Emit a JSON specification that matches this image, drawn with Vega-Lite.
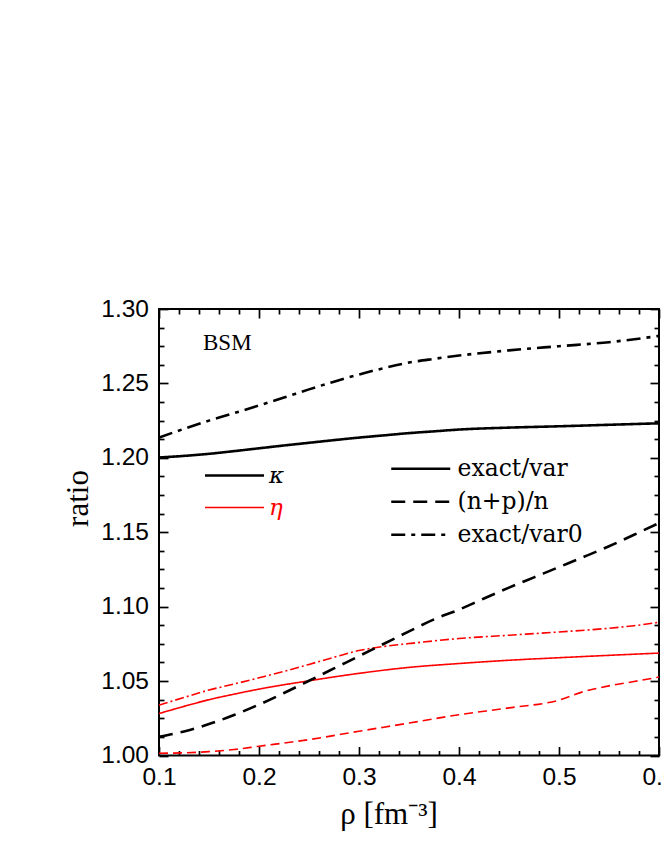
{
  "$schema": "https://vega.github.io/schema/vega-lite/v6.json",
  "width": 500,
  "height": 446.5,
  "autosize": {"type": "none"},
  "padding": {"left": 159, "top": 309, "right": 5, "bottom": 104.5},
  "background": "white",
  "config": {
    "view": {"stroke": "black", "strokeWidth": 2},
    "axis": {"grid": false, "domain": false}
  },
  "datasets": {
    "curves": [
      {"param": "κ", "curve": "exact/var", "rho": 0.10, "ratio": 1.2002},
      {"param": "κ", "curve": "exact/var", "rho": 0.125, "ratio": 1.2013},
      {"param": "κ", "curve": "exact/var", "rho": 0.15, "ratio": 1.2027},
      {"param": "κ", "curve": "exact/var", "rho": 0.175, "ratio": 1.2045},
      {"param": "κ", "curve": "exact/var", "rho": 0.20, "ratio": 1.2064},
      {"param": "κ", "curve": "exact/var", "rho": 0.225, "ratio": 1.2083},
      {"param": "κ", "curve": "exact/var", "rho": 0.25, "ratio": 1.2101},
      {"param": "κ", "curve": "exact/var", "rho": 0.275, "ratio": 1.2119},
      {"param": "κ", "curve": "exact/var", "rho": 0.30, "ratio": 1.2136},
      {"param": "κ", "curve": "exact/var", "rho": 0.325, "ratio": 1.2151},
      {"param": "κ", "curve": "exact/var", "rho": 0.35, "ratio": 1.2166},
      {"param": "κ", "curve": "exact/var", "rho": 0.375, "ratio": 1.2178},
      {"param": "κ", "curve": "exact/var", "rho": 0.40, "ratio": 1.2190},
      {"param": "κ", "curve": "exact/var", "rho": 0.45, "ratio": 1.2203},
      {"param": "κ", "curve": "exact/var", "rho": 0.50, "ratio": 1.2212},
      {"param": "κ", "curve": "exact/var", "rho": 0.55, "ratio": 1.2222},
      {"param": "κ", "curve": "exact/var", "rho": 0.60, "ratio": 1.2232},

      {"param": "κ", "curve": "(n+p)/n", "rho": 0.10, "ratio": 1.0126},
      {"param": "κ", "curve": "(n+p)/n", "rho": 0.125, "ratio": 1.0162},
      {"param": "κ", "curve": "(n+p)/n", "rho": 0.15, "ratio": 1.0211},
      {"param": "κ", "curve": "(n+p)/n", "rho": 0.175, "ratio": 1.0272},
      {"param": "κ", "curve": "(n+p)/n", "rho": 0.20, "ratio": 1.0342},
      {"param": "κ", "curve": "(n+p)/n", "rho": 0.225, "ratio": 1.0420},
      {"param": "κ", "curve": "(n+p)/n", "rho": 0.25, "ratio": 1.0502},
      {"param": "κ", "curve": "(n+p)/n", "rho": 0.275, "ratio": 1.0585},
      {"param": "κ", "curve": "(n+p)/n", "rho": 0.30, "ratio": 1.0668},
      {"param": "κ", "curve": "(n+p)/n", "rho": 0.325, "ratio": 1.0751},
      {"param": "κ", "curve": "(n+p)/n", "rho": 0.35, "ratio": 1.0834},
      {"param": "κ", "curve": "(n+p)/n", "rho": 0.375, "ratio": 1.0915},
      {"param": "κ", "curve": "(n+p)/n", "rho": 0.40, "ratio": 1.0980},
      {"param": "κ", "curve": "(n+p)/n", "rho": 0.425, "ratio": 1.1055},
      {"param": "κ", "curve": "(n+p)/n", "rho": 0.45, "ratio": 1.1128},
      {"param": "κ", "curve": "(n+p)/n", "rho": 0.475, "ratio": 1.1197},
      {"param": "κ", "curve": "(n+p)/n", "rho": 0.50, "ratio": 1.1266},
      {"param": "κ", "curve": "(n+p)/n", "rho": 0.525, "ratio": 1.1335},
      {"param": "κ", "curve": "(n+p)/n", "rho": 0.55, "ratio": 1.1406},
      {"param": "κ", "curve": "(n+p)/n", "rho": 0.575, "ratio": 1.1483},
      {"param": "κ", "curve": "(n+p)/n", "rho": 0.60, "ratio": 1.1562},

      {"param": "κ", "curve": "exact/var0", "rho": 0.10, "ratio": 1.2136},
      {"param": "κ", "curve": "exact/var0", "rho": 0.125, "ratio": 1.2195},
      {"param": "κ", "curve": "exact/var0", "rho": 0.15, "ratio": 1.2250},
      {"param": "κ", "curve": "exact/var0", "rho": 0.175, "ratio": 1.2300},
      {"param": "κ", "curve": "exact/var0", "rho": 0.20, "ratio": 1.2352},
      {"param": "κ", "curve": "exact/var0", "rho": 0.225, "ratio": 1.2405},
      {"param": "κ", "curve": "exact/var0", "rho": 0.25, "ratio": 1.2460},
      {"param": "κ", "curve": "exact/var0", "rho": 0.275, "ratio": 1.2512},
      {"param": "κ", "curve": "exact/var0", "rho": 0.30, "ratio": 1.2560},
      {"param": "κ", "curve": "exact/var0", "rho": 0.325, "ratio": 1.2603},
      {"param": "κ", "curve": "exact/var0", "rho": 0.35, "ratio": 1.2640},
      {"param": "κ", "curve": "exact/var0", "rho": 0.375, "ratio": 1.2665},
      {"param": "κ", "curve": "exact/var0", "rho": 0.40, "ratio": 1.2687},
      {"param": "κ", "curve": "exact/var0", "rho": 0.45, "ratio": 1.2722},
      {"param": "κ", "curve": "exact/var0", "rho": 0.50, "ratio": 1.2750},
      {"param": "κ", "curve": "exact/var0", "rho": 0.55, "ratio": 1.2777},
      {"param": "κ", "curve": "exact/var0", "rho": 0.60, "ratio": 1.2819},

      {"param": "η", "curve": "exact/var", "rho": 0.10, "ratio": 1.0282},
      {"param": "η", "curve": "exact/var", "rho": 0.125, "ratio": 1.0330},
      {"param": "η", "curve": "exact/var", "rho": 0.15, "ratio": 1.0375},
      {"param": "η", "curve": "exact/var", "rho": 0.175, "ratio": 1.0412},
      {"param": "η", "curve": "exact/var", "rho": 0.20, "ratio": 1.0446},
      {"param": "η", "curve": "exact/var", "rho": 0.25, "ratio": 1.0502},
      {"param": "η", "curve": "exact/var", "rho": 0.30, "ratio": 1.0552},
      {"param": "η", "curve": "exact/var", "rho": 0.35, "ratio": 1.0592},
      {"param": "η", "curve": "exact/var", "rho": 0.40, "ratio": 1.0618},
      {"param": "η", "curve": "exact/var", "rho": 0.45, "ratio": 1.0640},
      {"param": "η", "curve": "exact/var", "rho": 0.50, "ratio": 1.0657},
      {"param": "η", "curve": "exact/var", "rho": 0.55, "ratio": 1.0673},
      {"param": "η", "curve": "exact/var", "rho": 0.60, "ratio": 1.0688},

      {"param": "η", "curve": "(n+p)/n", "rho": 0.10, "ratio": 1.0015},
      {"param": "η", "curve": "(n+p)/n", "rho": 0.125, "ratio": 1.0018},
      {"param": "η", "curve": "(n+p)/n", "rho": 0.15, "ratio": 1.0026},
      {"param": "η", "curve": "(n+p)/n", "rho": 0.175, "ratio": 1.0040},
      {"param": "η", "curve": "(n+p)/n", "rho": 0.20, "ratio": 1.0062},
      {"param": "η", "curve": "(n+p)/n", "rho": 0.25, "ratio": 1.0107},
      {"param": "η", "curve": "(n+p)/n", "rho": 0.30, "ratio": 1.0163},
      {"param": "η", "curve": "(n+p)/n", "rho": 0.35, "ratio": 1.0218},
      {"param": "η", "curve": "(n+p)/n", "rho": 0.40, "ratio": 1.0274},
      {"param": "η", "curve": "(n+p)/n", "rho": 0.45, "ratio": 1.0320},
      {"param": "η", "curve": "(n+p)/n", "rho": 0.50, "ratio": 1.0372},
      {"param": "η", "curve": "(n+p)/n", "rho": 0.525, "ratio": 1.0430},
      {"param": "η", "curve": "(n+p)/n", "rho": 0.55, "ratio": 1.0468},
      {"param": "η", "curve": "(n+p)/n", "rho": 0.575, "ratio": 1.0497},
      {"param": "η", "curve": "(n+p)/n", "rho": 0.60, "ratio": 1.0527},

      {"param": "η", "curve": "exact/var0", "rho": 0.10, "ratio": 1.0338},
      {"param": "η", "curve": "exact/var0", "rho": 0.125, "ratio": 1.0390},
      {"param": "η", "curve": "exact/var0", "rho": 0.15, "ratio": 1.0440},
      {"param": "η", "curve": "exact/var0", "rho": 0.175, "ratio": 1.0480},
      {"param": "η", "curve": "exact/var0", "rho": 0.20, "ratio": 1.0522},
      {"param": "η", "curve": "exact/var0", "rho": 0.225, "ratio": 1.0565},
      {"param": "η", "curve": "exact/var0", "rho": 0.25, "ratio": 1.0612},
      {"param": "η", "curve": "exact/var0", "rho": 0.275, "ratio": 1.0660},
      {"param": "η", "curve": "exact/var0", "rho": 0.30, "ratio": 1.0705},
      {"param": "η", "curve": "exact/var0", "rho": 0.325, "ratio": 1.0733},
      {"param": "η", "curve": "exact/var0", "rho": 0.35, "ratio": 1.0752},
      {"param": "η", "curve": "exact/var0", "rho": 0.40, "ratio": 1.0786},
      {"param": "η", "curve": "exact/var0", "rho": 0.45, "ratio": 1.0808},
      {"param": "η", "curve": "exact/var0", "rho": 0.50, "ratio": 1.0830},
      {"param": "η", "curve": "exact/var0", "rho": 0.55, "ratio": 1.0855},
      {"param": "η", "curve": "exact/var0", "rho": 0.575, "ratio": 1.0872},
      {"param": "η", "curve": "exact/var0", "rho": 0.60, "ratio": 1.0895}
    ]
  },
  "data": {"name": "curves"},
  "layer": [
    {
      "transform": [{"filter": "datum.param === 'η'"}],
      "mark": {"type": "line", "interpolate": "monotone"},
      "encoding": {
        "x": {"field": "rho", "type": "quantitative", "scale": {"domain": [0.1, 0.6], "nice": false, "zero": false}, "axis": null},
        "y": {"field": "ratio", "type": "quantitative", "scale": {"domain": [1.0, 1.3], "nice": false, "zero": false}, "axis": null},
        "detail": {"field": "curve"},
        "color": {"field": "param", "type": "nominal", "scale": {"domain": ["κ", "η"], "range": ["black", "#ff0000"]},
          "legend": {"orient": "none", "legendX": 64, "legendY": 155, "title": null, "padding": 0, "symbolType": "M-3,0H3", "symbolSize": 387, "labelFont": "DejaVu Serif", "labelFontStyle": "italic", "labelFontSize": 23, "labelOffset": 23, "rowPadding": 8, "encode": {"labels": {"update": {"fill": {"signal": "datum.label === 'η' ? '#ff0000' : 'black'"}}}}}},
        "strokeWidth": {"field": "param", "type": "nominal", "scale": {"domain": ["κ", "η"], "range": [2.6, 1.6]},
          "legend": {"orient": "none", "legendX": 64, "legendY": 155, "title": null, "padding": 0, "symbolType": "M-3,0H3", "symbolSize": 387, "labelFont": "DejaVu Serif", "labelFontStyle": "italic", "labelFontSize": 23, "labelOffset": 23, "rowPadding": 8, "encode": {"labels": {"update": {"fill": {"signal": "datum.label === 'η' ? '#ff0000' : 'black'"}}}}}},
        "strokeDash": {"field": "curve", "type": "nominal", "scale": {"domain": ["exact/var", "(n+p)/n", "exact/var0"], "range": [[1, 0], [9, 5], [9, 3, 2, 3]]}, "legend": null}
      }
    },
    {
      "transform": [{"filter": "datum.param === 'κ'"}],
      "mark": {"type": "line", "interpolate": "monotone"},
      "encoding": {
        "x": {"field": "rho", "type": "quantitative", "scale": {"domain": [0.1, 0.6], "nice": false, "zero": false},
          "axis": {"orient": "bottom", "values": [0.1, 0.2, 0.3, 0.4, 0.5, 0.6], "format": ".1f", "ticks": false, "domain": false, "labelFont": "Liberation Sans", "labelFontSize": 24.5, "labelColor": "black", "labelPadding": 10, "labelFlush": false, "labelOverlap": false, "labelBound": false,
            "title": "ρ [fm⁻³]", "titleFont": "Liberation Serif", "titleFontSize": 31, "titleFontWeight": "normal", "titleColor": "black", "titleX": 229.5, "titleY": 67.5, "titleAlign": "center", "titleBaseline": "alphabetic"}},
        "y": {"field": "ratio", "type": "quantitative", "scale": {"domain": [1.0, 1.3], "nice": false, "zero": false},
          "axis": {"orient": "left", "values": [1.0, 1.05, 1.1, 1.15, 1.2, 1.25, 1.3], "format": ".2f", "ticks": false, "domain": false, "labelFont": "Liberation Sans", "labelFontSize": 24.5, "labelColor": "black", "labelPadding": 10.5, "labelFlush": false, "labelOverlap": false, "labelBound": false,
            "title": "ratio", "titleFont": "Liberation Serif", "titleFontSize": 31, "titleFontWeight": "normal", "titleColor": "black", "titleAngle": 270, "titleX": -72, "titleY": 189, "titleAlign": "center", "titleBaseline": "alphabetic"}},
        "detail": {"field": "curve"},
        "color": {"field": "param", "type": "nominal", "scale": {"domain": ["κ", "η"], "range": ["black", "#ff0000"]},
          "legend": {"orient": "none", "legendX": 64, "legendY": 155, "title": null, "padding": 0, "symbolType": "M-3,0H3", "symbolSize": 387, "labelFont": "DejaVu Serif", "labelFontStyle": "italic", "labelFontSize": 23, "labelOffset": 23, "rowPadding": 8, "encode": {"labels": {"update": {"fill": {"signal": "datum.label === 'η' ? '#ff0000' : 'black'"}}}}}},
        "strokeWidth": {"field": "param", "type": "nominal", "scale": {"domain": ["κ", "η"], "range": [2.6, 1.6]},
          "legend": {"orient": "none", "legendX": 64, "legendY": 155, "title": null, "padding": 0, "symbolType": "M-3,0H3", "symbolSize": 387, "labelFont": "DejaVu Serif", "labelFontStyle": "italic", "labelFontSize": 23, "labelOffset": 23, "rowPadding": 8, "encode": {"labels": {"update": {"fill": {"signal": "datum.label === 'η' ? '#ff0000' : 'black'"}}}}}},
        "strokeDash": {"field": "curve", "type": "nominal", "scale": {"domain": ["exact/var", "(n+p)/n", "exact/var0"], "range": [[1, 0], [14, 8], [14, 6, 4, 6]]},
          "legend": {"orient": "none", "legendX": 250, "legendY": 148, "title": null, "padding": 0, "symbolType": "M-3,0H3", "symbolSize": 387, "symbolStrokeColor": "black", "symbolStrokeWidth": 2.6, "labelFont": "DejaVu Serif", "labelFontSize": 23.5, "labelColor": "black", "labelOffset": 25, "rowPadding": 8}}
      }
    },
    {
      "mark": {"type": "line", "opacity": 0},
      "encoding": {
        "x": {"field": "rho", "type": "quantitative", "scale": {"domain": [0.1, 0.6], "nice": false, "zero": false},
          "axis": {"orient": "top", "offset": -446.5, "tickCount": 100, "values": [0.1, 0.12, 0.14, 0.16, 0.18, 0.2, 0.22, 0.24, 0.26, 0.28, 0.3, 0.32, 0.34, 0.36, 0.38, 0.4, 0.42, 0.44, 0.46, 0.48, 0.5, 0.52, 0.54, 0.56, 0.58, 0.6], "labels": false, "domain": false, "grid": false, "ticks": true,
            "tickSize": {"condition": {"test": "abs(datum.value * 10 - round(datum.value * 10)) < 0.001", "value": 9}, "value": 5},
            "tickWidth": 1.7, "tickColor": "black", "title": null}},
        "y": {"field": "ratio", "type": "quantitative", "scale": {"domain": [1.0, 1.3], "nice": false, "zero": false},
          "axis": {"orient": "right", "offset": -500, "tickCount": 100, "values": [1.0, 1.0125, 1.025, 1.0375, 1.05, 1.0625, 1.075, 1.0875, 1.1, 1.1125, 1.125, 1.1375, 1.15, 1.1625, 1.175, 1.1875, 1.2, 1.2125, 1.225, 1.2375, 1.25, 1.2625, 1.275, 1.2875, 1.3], "labels": false, "domain": false, "grid": false, "ticks": true,
            "tickSize": {"condition": {"test": "abs(datum.value * 20 - round(datum.value * 20)) < 0.001", "value": 9}, "value": 5},
            "tickWidth": 1.7, "tickColor": "black", "title": null}},
        "detail": {"field": "curve"}
      }
    },
    {
      "mark": {"type": "line", "opacity": 0},
      "encoding": {
        "x": {"field": "rho", "type": "quantitative", "scale": {"domain": [0.1, 0.6], "nice": false, "zero": false},
          "axis": {"orient": "bottom", "offset": -446.5, "tickCount": 100, "values": [0.1, 0.12, 0.14, 0.16, 0.18, 0.2, 0.22, 0.24, 0.26, 0.28, 0.3, 0.32, 0.34, 0.36, 0.38, 0.4, 0.42, 0.44, 0.46, 0.48, 0.5, 0.52, 0.54, 0.56, 0.58, 0.6], "labels": false, "domain": false, "grid": false, "ticks": true,
            "tickSize": {"condition": {"test": "abs(datum.value * 10 - round(datum.value * 10)) < 0.001", "value": 9}, "value": 5},
            "tickWidth": 1.7, "tickColor": "black", "title": null}},
        "y": {"field": "ratio", "type": "quantitative", "scale": {"domain": [1.0, 1.3], "nice": false, "zero": false},
          "axis": {"orient": "left", "offset": -500, "tickCount": 100, "values": [1.0, 1.0125, 1.025, 1.0375, 1.05, 1.0625, 1.075, 1.0875, 1.1, 1.1125, 1.125, 1.1375, 1.15, 1.1625, 1.175, 1.1875, 1.2, 1.2125, 1.225, 1.2375, 1.25, 1.2625, 1.275, 1.2875, 1.3], "labels": false, "domain": false, "grid": false, "ticks": true,
            "tickSize": {"condition": {"test": "abs(datum.value * 20 - round(datum.value * 20)) < 0.001", "value": 9}, "value": 5},
            "tickWidth": 1.7, "tickColor": "black", "title": null}},
        "detail": {"field": "curve"}
      }
    },
    {
      "data": {"values": [{"label": "BSM"}]},
      "mark": {"type": "text", "font": "Liberation Serif", "fontSize": 23, "align": "left", "baseline": "alphabetic", "color": "black"},
      "encoding": {
        "x": {"datum": 0.144, "type": "quantitative", "scale": {"domain": [0.1, 0.6], "nice": false, "zero": false}, "axis": null},
        "y": {"datum": 1.2725, "type": "quantitative", "scale": {"domain": [1.0, 1.3], "nice": false, "zero": false}, "axis": null},
        "text": {"field": "label"}
      }
    }
  ],
  "resolve": {
    "scale": {"strokeDash": "independent"},
    "axis": {"x": "independent", "y": "independent"}
  }
}
